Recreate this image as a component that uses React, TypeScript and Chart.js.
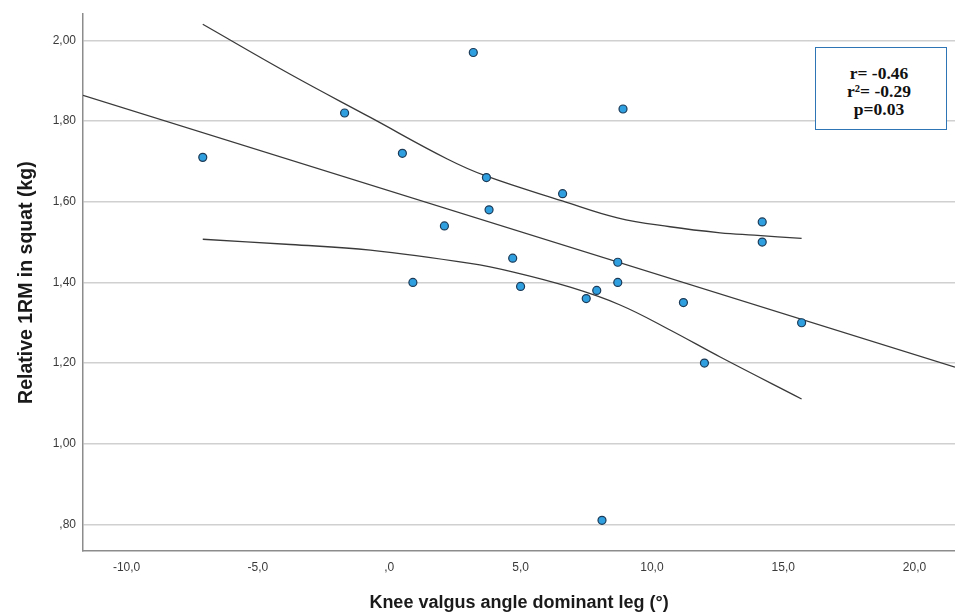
import React, { useEffect, useRef } from "react";
import { Chart, registerables } from "chart.js";

Chart.register(...registerables);

// Observations: knee valgus angle (x) vs relative 1RM in squat (y)
const pointX = [-7.1, -1.7, 0.5, 0.9, 2.1, 3.2, 3.7, 3.8, 4.7, 5.0, 6.6, 7.5, 7.9, 8.1, 8.7, 8.7, 8.9, 11.2, 12.0, 14.2, 14.2, 15.7];
const pointY = [1.71, 1.82, 1.72, 1.40, 1.54, 1.97, 1.66, 1.58, 1.46, 1.39, 1.62, 1.36, 1.38, 0.81, 1.45, 1.40, 1.83, 1.35, 1.20, 1.55, 1.50, 1.30];

// Fit line (read at the plot edges)
const fitX = [-11.66, 21.54];
const fitY = [1.864, 1.19];

// Upper confidence band
const upperX = [-7.1, -3.77, -0.72, 2.21, 3.68, 6.59, 8.69, 10.69, 12.6, 13.89, 15.7];
const upperY = [2.04, 1.916, 1.809, 1.706, 1.664, 1.602, 1.56, 1.538, 1.523, 1.517, 1.509];

// Lower confidence band
const lowerX = [-7.1, -3.77, -0.72, 3.08, 4.69, 6.89, 8.79, 10.69, 12.6, 15.7];
const lowerY = [1.507, 1.494, 1.48, 1.447, 1.426, 1.388, 1.344, 1.282, 1.215, 1.111];

// Axes
const xTicks = [-10, -5, 0, 5, 10, 15, 20];
const yTicks = [0.8, 1.0, 1.2, 1.4, 1.6, 1.8, 2.0];
const xRange = [-11.66, 21.54];
const yRange = [0.734, 2.065];

const xTitle = "Knee valgus angle dominant leg (°)";
const yTitle = "Relative 1RM in squat (kg)";
const statLines = ["r= -0.46", "r²= -0.29", "p=0.03"];

const zip = (xs: number[], ys: number[]) => xs.map((x, i) => ({ x, y: ys[i] }));

const fmt = (v: number, d: number) => {
  let s = Math.abs(v).toFixed(d).replace(".", ",");
  if (s.startsWith("0,")) s = s.slice(1);
  return (v < 0 ? "-" : "") + s;
};

export default function App() {
  const ref = useRef<HTMLCanvasElement | null>(null);

  useEffect(() => {
    if (!ref.current) return;
    const lineStyle = {
      showLine: true,
      pointRadius: 0,
      pointHoverRadius: 0,
      borderColor: "#3a3a3a",
      borderWidth: 1.3,
      fill: false,
    };
    const chart = new Chart(ref.current, {
      type: "scatter",
      data: {
        datasets: [
          {
            label: "points",
            data: zip(pointX, pointY),
            pointRadius: 4,
            pointBackgroundColor: "#2f9fe0",
            pointBorderColor: "#1d3b57",
            pointBorderWidth: 1.2,
            showLine: false,
          },
          { label: "fit", data: zip(fitX, fitY), ...lineStyle, tension: 0 },
          { label: "upper", data: zip(upperX, upperY), ...lineStyle, tension: 0.4 },
          { label: "lower", data: zip(lowerX, lowerY), ...lineStyle, tension: 0.4 },
        ] as any,
      },
      options: {
        responsive: false,
        animation: false,
        devicePixelRatio: 1,
        layout: { autoPadding: false, padding: { top: 14, left: 0, right: 0, bottom: 0 } },
        plugins: { legend: { display: false }, tooltip: { enabled: false } },
        scales: {
          x: {
            type: "linear",
            min: xRange[0],
            max: xRange[1],
            afterBuildTicks: (axis: any) => {
              axis.ticks = xTicks.map((v) => ({ value: v }));
            },
            afterFit: (axis: any) => {
              axis.height = 62;
            },
            grid: { display: false, drawTicks: false },
            border: { display: true, color: "#8c8c8c", width: 1.5 },
            ticks: {
              padding: 9,
              color: "#3a3a3a",
              font: { family: "Arial, 'Liberation Sans', sans-serif", size: 12 },
              callback: (v: any) => fmt(Number(v), 1),
              maxRotation: 0,
              autoSkip: false,
            },
            title: {
              display: true,
              text: xTitle,
              color: "#1a1a1a",
              font: { family: "Arial, 'Liberation Sans', sans-serif", size: 18, weight: "bold", lineHeight: 1.1 },
              padding: { top: 0, bottom: 0 },
            },
          },
          y: {
            type: "linear",
            min: yRange[0],
            max: yRange[1],
            afterBuildTicks: (axis: any) => {
              axis.ticks = yTicks.map((v) => ({ value: v }));
            },
            afterFit: (axis: any) => {
              axis.width = 83;
            },
            grid: { display: true, drawTicks: false, color: "#d0d0d0", lineWidth: 1.5 },
            border: { display: true, color: "#8c8c8c", width: 1.5 },
            ticks: {
              padding: 7,
              color: "#3a3a3a",
              font: { family: "Arial, 'Liberation Sans', sans-serif", size: 12 },
              callback: (v: any) => fmt(Number(v), 2),
              autoSkip: false,
            },
            title: {
              display: true,
              text: yTitle,
              color: "#1a1a1a",
              font: { family: "Arial, 'Liberation Sans', sans-serif", size: 19.5, weight: "bold", lineHeight: 1.2 },
              padding: { top: 15, bottom: 0 },
            },
          },
        },
      } as any,
    });
    return () => chart.destroy();
  }, []);

  return (
    <div style={{ position: "fixed", left: 0, top: 0, width: 955, height: 613, background: "#fff" }}>
      <canvas ref={ref} width={955} height={613} style={{ display: "block", width: 955, height: 613 }} />
      <div
        style={{
          position: "absolute",
          left: 815,
          top: 47,
          width: 132,
          height: 83,
          boxSizing: "border-box",
          border: "1px solid #2e75b6",
          background: "#fff",
          fontFamily: "'Liberation Serif', 'Times New Roman', serif",
          fontWeight: "bold",
          fontSize: 17.5,
          lineHeight: "18.3px",
          color: "#111",
          textAlign: "center",
          paddingTop: 15.5,
          paddingRight: 4,
        }}
      >
        {statLines.map((s) => (
          <div key={s}>{s}</div>
        ))}
      </div>
    </div>
  );
}
